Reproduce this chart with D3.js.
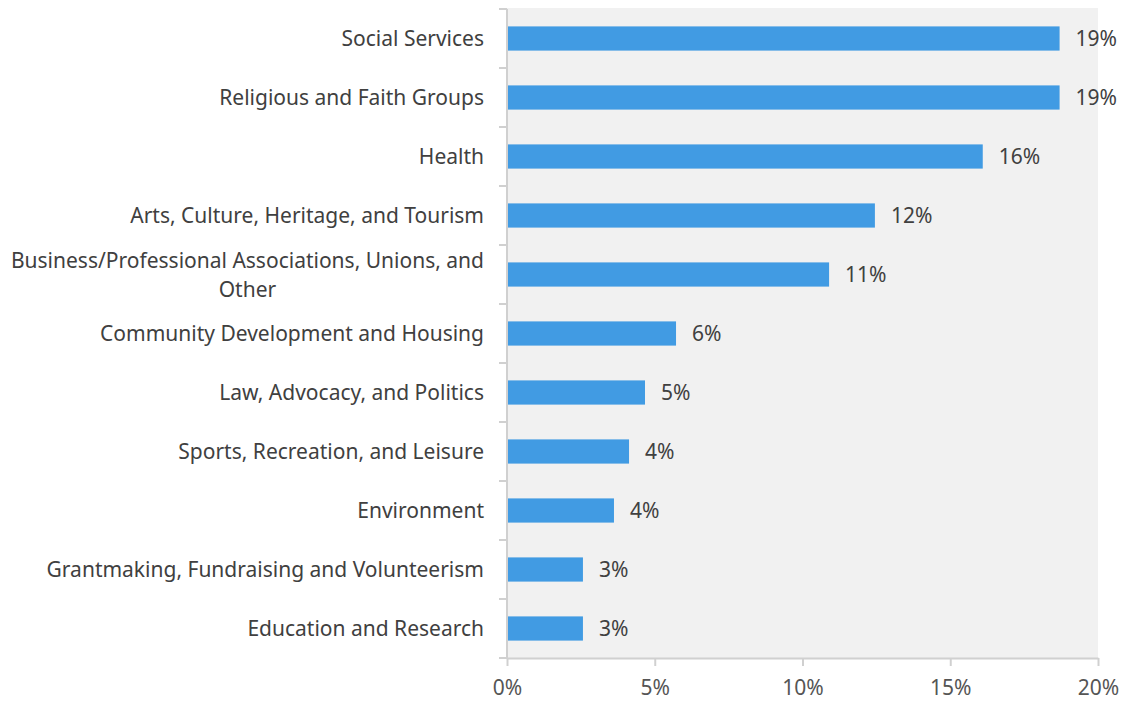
<!DOCTYPE html>
<html>
<head>
<meta charset="utf-8">
<script src="https://cdn.jsdelivr.net/npm/d3@7"></script>
<style>
  html, body { margin: 0; padding: 0; background: #fff; }
  svg { display: block; font-family: "Noto Sans", "Open Sans", sans-serif; }
</style>
</head>
<body>
<svg id="chart" width="1130" height="702"></svg>
<script>
// Share of organizations by sector (%)
const categories = [
  "Social Services",
  "Religious and Faith Groups",
  "Health",
  "Arts, Culture, Heritage, and Tourism",
  "Business/Professional Associations, Unions, and Other",
  "Community Development and Housing",
  "Law, Advocacy, and Politics",
  "Sports, Recreation, and Leisure",
  "Environment",
  "Grantmaking, Fundraising and Volunteerism",
  "Education and Research"
];
const shares = [18.7, 18.7, 16.1, 12.45, 10.9, 5.72, 4.67, 4.13, 3.62, 2.57, 2.57];
const xTicks = [0, 5, 10, 15, 20];

const FS = 21;
const svg = d3.select("#chart");
const margin = { top: 9, right: 32, bottom: 44, left: 507 };
const W = 1130, H = 702;
const innerW = W - margin.left - margin.right;   // 591
const innerH = H - margin.top - margin.bottom;    // 649

const x = d3.scaleLinear().domain([0, 20]).range([0, innerW]);
const y = d3.scaleBand().domain(categories).range([0, innerH]).paddingInner(0.59).paddingOuter(0.295);

const g = svg.append("g").attr("transform", `translate(${margin.left},${margin.top})`);

// plot background
g.append("rect")
  .attr("x", 0).attr("y", -1)
  .attr("width", innerW).attr("height", innerH + 1)
  .attr("fill", "#f1f1f1");

// bars
g.selectAll("rect.bar")
  .data(categories)
  .join("rect")
  .attr("class", "bar")
  .attr("x", 0)
  .attr("y", d => y(d))
  .attr("width", (d, i) => x(shares[i]))
  .attr("height", y.bandwidth())
  .attr("fill", "#419be3");

// value labels
g.selectAll("text.val")
  .data(categories)
  .join("text")
  .attr("class", "val")
  .attr("x", (d, i) => x(shares[i]) + 16)
  .attr("y", d => y(d) + y.bandwidth() / 2)
  .attr("dy", "0.36em")
  .attr("font-size", FS)
  .attr("fill", "#404040")
  .text((d, i) => d3.format(".0f")(shares[i]) + "%");

// x axis
const xAxis = g.append("g")
  .attr("transform", `translate(0,${innerH})`)
  .call(d3.axisBottom(x).tickValues(xTicks).tickFormat(d => d + "%").tickSize(8).tickSizeOuter(0));
xAxis.select(".domain").attr("stroke", "#d0d0d0").attr("stroke-width", 2);
xAxis.selectAll(".tick line").attr("stroke", "#d0d0d0").attr("stroke-width", 2);
xAxis.selectAll(".tick text")
  .attr("font-size", FS).attr("fill", "#555").attr("dy", "1.25em")
  .attr("font-family", "Noto Sans, Open Sans, sans-serif");

// y axis: line with ticks at band boundaries
const yAxis = g.append("g");
yAxis.append("line")
  .attr("x1", 0).attr("x2", 0).attr("y1", 0).attr("y2", innerH)
  .attr("stroke", "#d0d0d0").attr("stroke-width", 2);
const step = y.step();
yAxis.selectAll("line.tk")
  .data(d3.range(categories.length + 1))
  .join("line")
  .attr("class", "tk")
  .attr("x1", -8).attr("x2", 0)
  .attr("y1", i => i * step).attr("y2", i => i * step)
  .attr("stroke", "#d0d0d0").attr("stroke-width", 2);

// category labels, wrapped when wider than the label column
const maxW = 480;
const lineH = 29;
categories.forEach(cat => {
  const cy = y(cat) + y.bandwidth() / 2;
  const t = g.append("text")
    .attr("font-size", FS)
    .attr("fill", "#404040")
    .attr("text-anchor", "middle");
  const words = cat.split(" ");
  const lines = [];
  let cur = [];
  const probe = g.append("text").attr("font-size", FS);
  words.forEach(w => {
    const test = cur.concat([w]).join(" ");
    probe.text(test);
    if (probe.node().getComputedTextLength() > maxW && cur.length) {
      lines.push(cur.join(" "));
      cur = [w];
    } else cur.push(w);
  });
  lines.push(cur.join(" "));
  let widest = 0;
  lines.forEach(l => { probe.text(l); widest = Math.max(widest, probe.node().getComputedTextLength()); });
  probe.remove();
  const cx = -23 - widest / 2;
  const top = cy - (lines.length - 1) * lineH / 2;
  lines.forEach((l, i) => {
    t.append("tspan")
      .attr("x", cx)
      .attr("y", top + i * lineH)
      .attr("dy", "0.36em")
      .text(l);
  });
});
</script>
</body>
</html>
